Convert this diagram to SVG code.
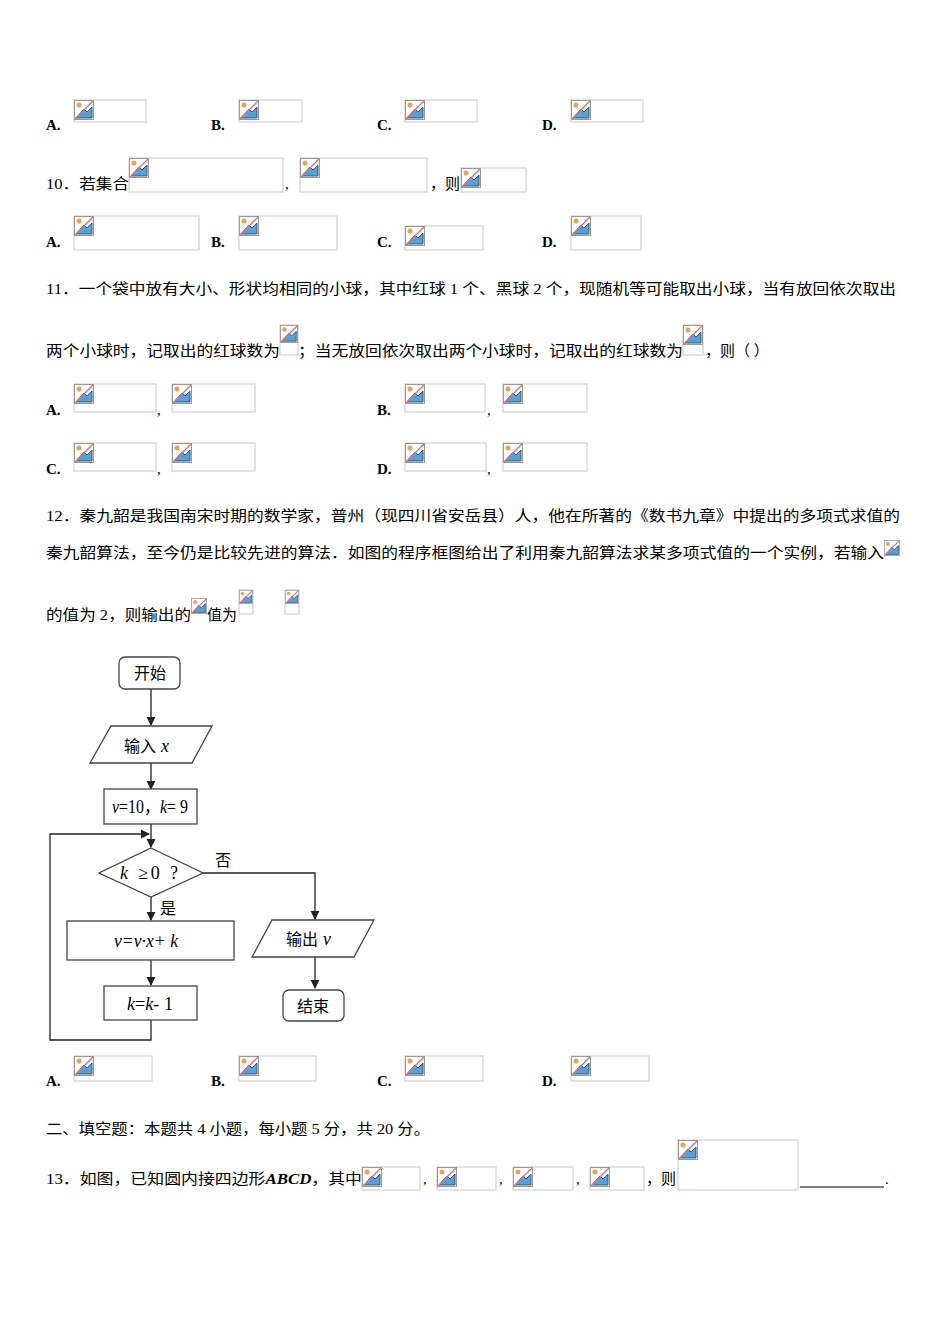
<svg xmlns="http://www.w3.org/2000/svg" width="950" height="1344" viewBox="0 0 950 1344">
<style>
text{font-family:"Liberation Serif","Noto Sans CJK SC",serif;font-size:15px;fill:#000}
.b{font-weight:bold}
.box{fill:#fff;stroke:#c8c8c8;stroke-width:1}
.fc{fill:#fff;stroke:#444;stroke-width:1.3}
.ln{fill:none;stroke:#222;stroke-width:1.3}
.ft{font-family:"Noto Sans CJK SC","Liberation Sans",sans-serif;font-size:16px}
.it{font-style:italic}
.m{font-size:18px}
</style>
<defs>
<symbol id="ic" viewBox="0 0 20 20">
<rect x="0.5" y="0.5" width="19" height="19" fill="#fff" stroke="#999"/>
<circle cx="5" cy="5" r="2.5" fill="#f0a050"/>
<path d="M2 18 L10 9 L13 12 L18 7 L18 18 Z" fill="#5aa0d8" stroke="#2a5a80"/>
<line x1="1" y1="19" x2="19" y2="1" stroke="#e07070" stroke-width="1.5"/>
</symbol>
<marker id="ar" viewBox="0 0 10 10" refX="9" refY="5" markerWidth="7" markerHeight="7" orient="auto"><path d="M0 0L10 5L0 10Z" fill="#222"/></marker>
</defs>

<g id="q9opts">
<text x="46" y="130" class="b">A.</text><rect class="box" x="74" y="100" width="72" height="22"/><use href="#ic" x="74" y="100" width="20" height="20"/>
<text x="211" y="130" class="b">B.</text><rect class="box" x="239" y="100" width="63" height="22"/><use href="#ic" x="239" y="100" width="20" height="20"/>
<text x="377" y="130" class="b">C.</text><rect class="box" x="405" y="100" width="72" height="22"/><use href="#ic" x="405" y="100" width="20" height="20"/>
<text x="542" y="130" class="b">D.</text><rect class="box" x="571" y="100" width="72" height="22"/><use href="#ic" x="571" y="100" width="20" height="20"/>
</g>

<g id="q10">
<text x="46" y="189" textLength="83" lengthAdjust="spacingAndGlyphs">10．若集合</text>
<rect class="box" x="129" y="158" width="154" height="34"/><use href="#ic" x="129" y="158" width="20" height="20"/>
<text x="285" y="189">,</text>
<rect class="box" x="300" y="158" width="127" height="34"/><use href="#ic" x="300" y="158" width="20" height="20"/>
<text x="430" y="189">，则</text>
<rect class="box" x="461" y="168" width="65" height="24"/><use href="#ic" x="461" y="168" width="20" height="20"/>
<text x="46" y="247" class="b">A.</text><rect class="box" x="74" y="216" width="125" height="34"/><use href="#ic" x="74" y="216" width="20" height="20"/>
<text x="211" y="247" class="b">B.</text><rect class="box" x="239" y="216" width="98" height="34"/><use href="#ic" x="239" y="216" width="20" height="20"/>
<text x="377" y="247" class="b">C.</text><rect class="box" x="405" y="226" width="78" height="24"/><use href="#ic" x="405" y="226" width="20" height="20"/>
<text x="542" y="247" class="b">D.</text><rect class="box" x="571" y="216" width="70" height="34"/><use href="#ic" x="571" y="216" width="20" height="20"/>
</g>

<g id="q11">
<text x="46" y="294" textLength="850" lengthAdjust="spacingAndGlyphs">11．一个袋中放有大小、形状均相同的小球，其中红球 1 个、黑球 2 个，现随机等可能取出小球，当有放回依次取出</text>
<text x="46" y="356" textLength="234" lengthAdjust="spacingAndGlyphs">两个小球时，记取出的红球数为</text>
<rect class="box" x="280" y="325" width="18" height="30"/><use href="#ic" x="280" y="325" width="18" height="18"/>
<text x="298" y="356" textLength="385" lengthAdjust="spacingAndGlyphs">；当无放回依次取出两个小球时，记取出的红球数为</text>
<rect class="box" x="683" y="325" width="20" height="30"/><use href="#ic" x="683" y="325" width="20" height="20"/>
<text x="705" y="356">，则（  ）</text>
<text x="46" y="415" class="b">A.</text><rect class="box" x="74" y="384" width="82" height="28"/><use href="#ic" x="74" y="384" width="20" height="20"/>
<text x="157" y="415">,</text><rect class="box" x="172" y="384" width="83" height="28"/><use href="#ic" x="172" y="384" width="20" height="20"/>
<text x="377" y="415" class="b">B.</text><rect class="box" x="405" y="384" width="80" height="28"/><use href="#ic" x="405" y="384" width="20" height="20"/>
<text x="487" y="415">,</text><rect class="box" x="503" y="384" width="84" height="28"/><use href="#ic" x="503" y="384" width="20" height="20"/>
<text x="46" y="474" class="b">C.</text><rect class="box" x="74" y="443" width="82" height="28"/><use href="#ic" x="74" y="443" width="20" height="20"/>
<text x="157" y="474">,</text><rect class="box" x="172" y="443" width="83" height="28"/><use href="#ic" x="172" y="443" width="20" height="20"/>
<text x="377" y="474" class="b">D.</text><rect class="box" x="405" y="443" width="81" height="28"/><use href="#ic" x="405" y="443" width="20" height="20"/>
<text x="487" y="474">,</text><rect class="box" x="503" y="443" width="84" height="28"/><use href="#ic" x="503" y="443" width="20" height="20"/>
</g>

<g id="q12">
<text x="46" y="521" textLength="854" lengthAdjust="spacingAndGlyphs">12．秦九韶是我国南宋时期的数学家，普州（现四川省安岳县）人，他在所著的《数书九章》中提出的多项式求值的</text>
<text x="46" y="558" textLength="838" lengthAdjust="spacingAndGlyphs">秦九韶算法，至今仍是比较先进的算法．如图的程序框图给出了利用秦九韶算法求某多项式值的一个实例，若输入</text>
<use href="#ic" x="884" y="540" width="16" height="16"/>
<text x="46" y="620" textLength="145" lengthAdjust="spacingAndGlyphs">的值为 2，则输出的</text>
<use href="#ic" x="191" y="598" width="16" height="16"/>
<text x="207" y="620">值为</text>
<rect class="box" x="239" y="590" width="14" height="24"/><use href="#ic" x="239" y="590" width="14" height="14"/>
<rect class="box" x="285" y="590" width="14" height="24"/><use href="#ic" x="285" y="590" width="14" height="14"/>
</g>

<g id="connectors">
<line class="ln" x1="151" y1="689" x2="151" y2="725" marker-end="url(#ar)"/>
<line class="ln" x1="151" y1="763" x2="151" y2="789" marker-end="url(#ar)"/>
<line class="ln" x1="151" y1="824" x2="151" y2="847" marker-end="url(#ar)"/>
<line class="ln" x1="151" y1="897" x2="151" y2="920" marker-end="url(#ar)"/>
<line class="ln" x1="151" y1="960" x2="151" y2="985" marker-end="url(#ar)"/>
<polyline class="ln" points="151,1020 151,1040 50,1040 50,834 149,834" marker-end="url(#ar)"/>
<polyline class="ln" points="203,873 315,873 315,919" marker-end="url(#ar)"/>
<line class="ln" x1="315" y1="957" x2="315" y2="988" marker-end="url(#ar)"/>
<text x="215" y="866" class="ft" font-size="15">否</text>
<text x="160" y="914" class="ft" font-size="15">是</text>
</g>
<g id="start"><rect class="fc" x="119" y="657" width="61" height="32" rx="6"/><text x="150" y="679" class="ft" text-anchor="middle">开始</text></g>
<g id="input"><polygon class="fc" points="111,726 212,726 192,763 90,763"/><text x="124" y="752" class="ft">输入</text><text x="161" y="752" class="it m">x</text></g>
<g id="init"><rect class="fc" x="104" y="789" width="93" height="35"/><text x="150" y="813" text-anchor="middle" class="m" textLength="76" lengthAdjust="spacingAndGlyphs"><tspan class="it">v</tspan>=10，<tspan class="it">k</tspan>= 9</text></g>
<g id="cond"><polygon class="fc" points="151,848 203,873 151,897 99,873"/><text x="149" y="879" text-anchor="middle" class="m" textLength="58" lengthAdjust="spacing"><tspan class="it">k</tspan> ≥0 ?</text></g>
<g id="update"><rect class="fc" x="67" y="921" width="167" height="39"/><text x="146" y="947" text-anchor="middle" class="it m" textLength="64" lengthAdjust="spacingAndGlyphs">v=v·x+ k</text></g>
<g id="dec"><rect class="fc" x="104" y="986" width="93" height="34"/><text x="150" y="1010" text-anchor="middle" class="m" textLength="46" lengthAdjust="spacingAndGlyphs"><tspan class="it">k</tspan>=<tspan class="it">k</tspan>- 1</text></g>
<g id="output"><polygon class="fc" points="272,920 374,920 354,957 252,957"/><text x="286" y="945" class="ft">输出</text><text x="323" y="945" class="it m">v</text></g>
<g id="end"><rect class="fc" x="283" y="990" width="61" height="31" rx="6"/><text x="313" y="1012" class="ft" text-anchor="middle">结束</text></g>

<g id="q12opts">
<text x="46" y="1086" class="b">A.</text><rect class="box" x="74" y="1056" width="78" height="25"/><use href="#ic" x="74" y="1056" width="20" height="20"/>
<text x="211" y="1086" class="b">B.</text><rect class="box" x="239" y="1056" width="77" height="25"/><use href="#ic" x="239" y="1056" width="20" height="20"/>
<text x="377" y="1086" class="b">C.</text><rect class="box" x="405" y="1056" width="78" height="25"/><use href="#ic" x="405" y="1056" width="20" height="20"/>
<text x="542" y="1086" class="b">D.</text><rect class="box" x="571" y="1056" width="78" height="25"/><use href="#ic" x="571" y="1056" width="20" height="20"/>
</g>

<g id="sec2"><text x="46" y="1134" textLength="384" lengthAdjust="spacingAndGlyphs">二、填空题：本题共 4 小题，每小题 5 分，共 20 分。</text></g>
<g id="q13">
<text x="46" y="1184" textLength="316" lengthAdjust="spacingAndGlyphs">13．如图，已知圆内接四边形<tspan class="b it">ABCD</tspan>，其中</text>
<rect class="box" x="362" y="1167" width="58" height="23"/><use href="#ic" x="362" y="1167" width="20" height="20"/>
<text x="423" y="1184">,</text>
<rect class="box" x="437" y="1167" width="59" height="23"/><use href="#ic" x="437" y="1167" width="20" height="20"/>
<text x="499" y="1184">,</text>
<rect class="box" x="513" y="1167" width="60" height="23"/><use href="#ic" x="513" y="1167" width="20" height="20"/>
<text x="576" y="1184">,</text>
<rect class="box" x="590" y="1167" width="54" height="23"/><use href="#ic" x="590" y="1167" width="20" height="20"/>
<text x="646" y="1184">，则</text>
<rect class="box" x="678" y="1140" width="120" height="50"/><use href="#ic" x="678" y="1140" width="20" height="20"/>
<line x1="800" y1="1187" x2="884" y2="1187" stroke="#000" stroke-width="1"/>
<text x="885" y="1184">.</text>
</g>
</svg>
